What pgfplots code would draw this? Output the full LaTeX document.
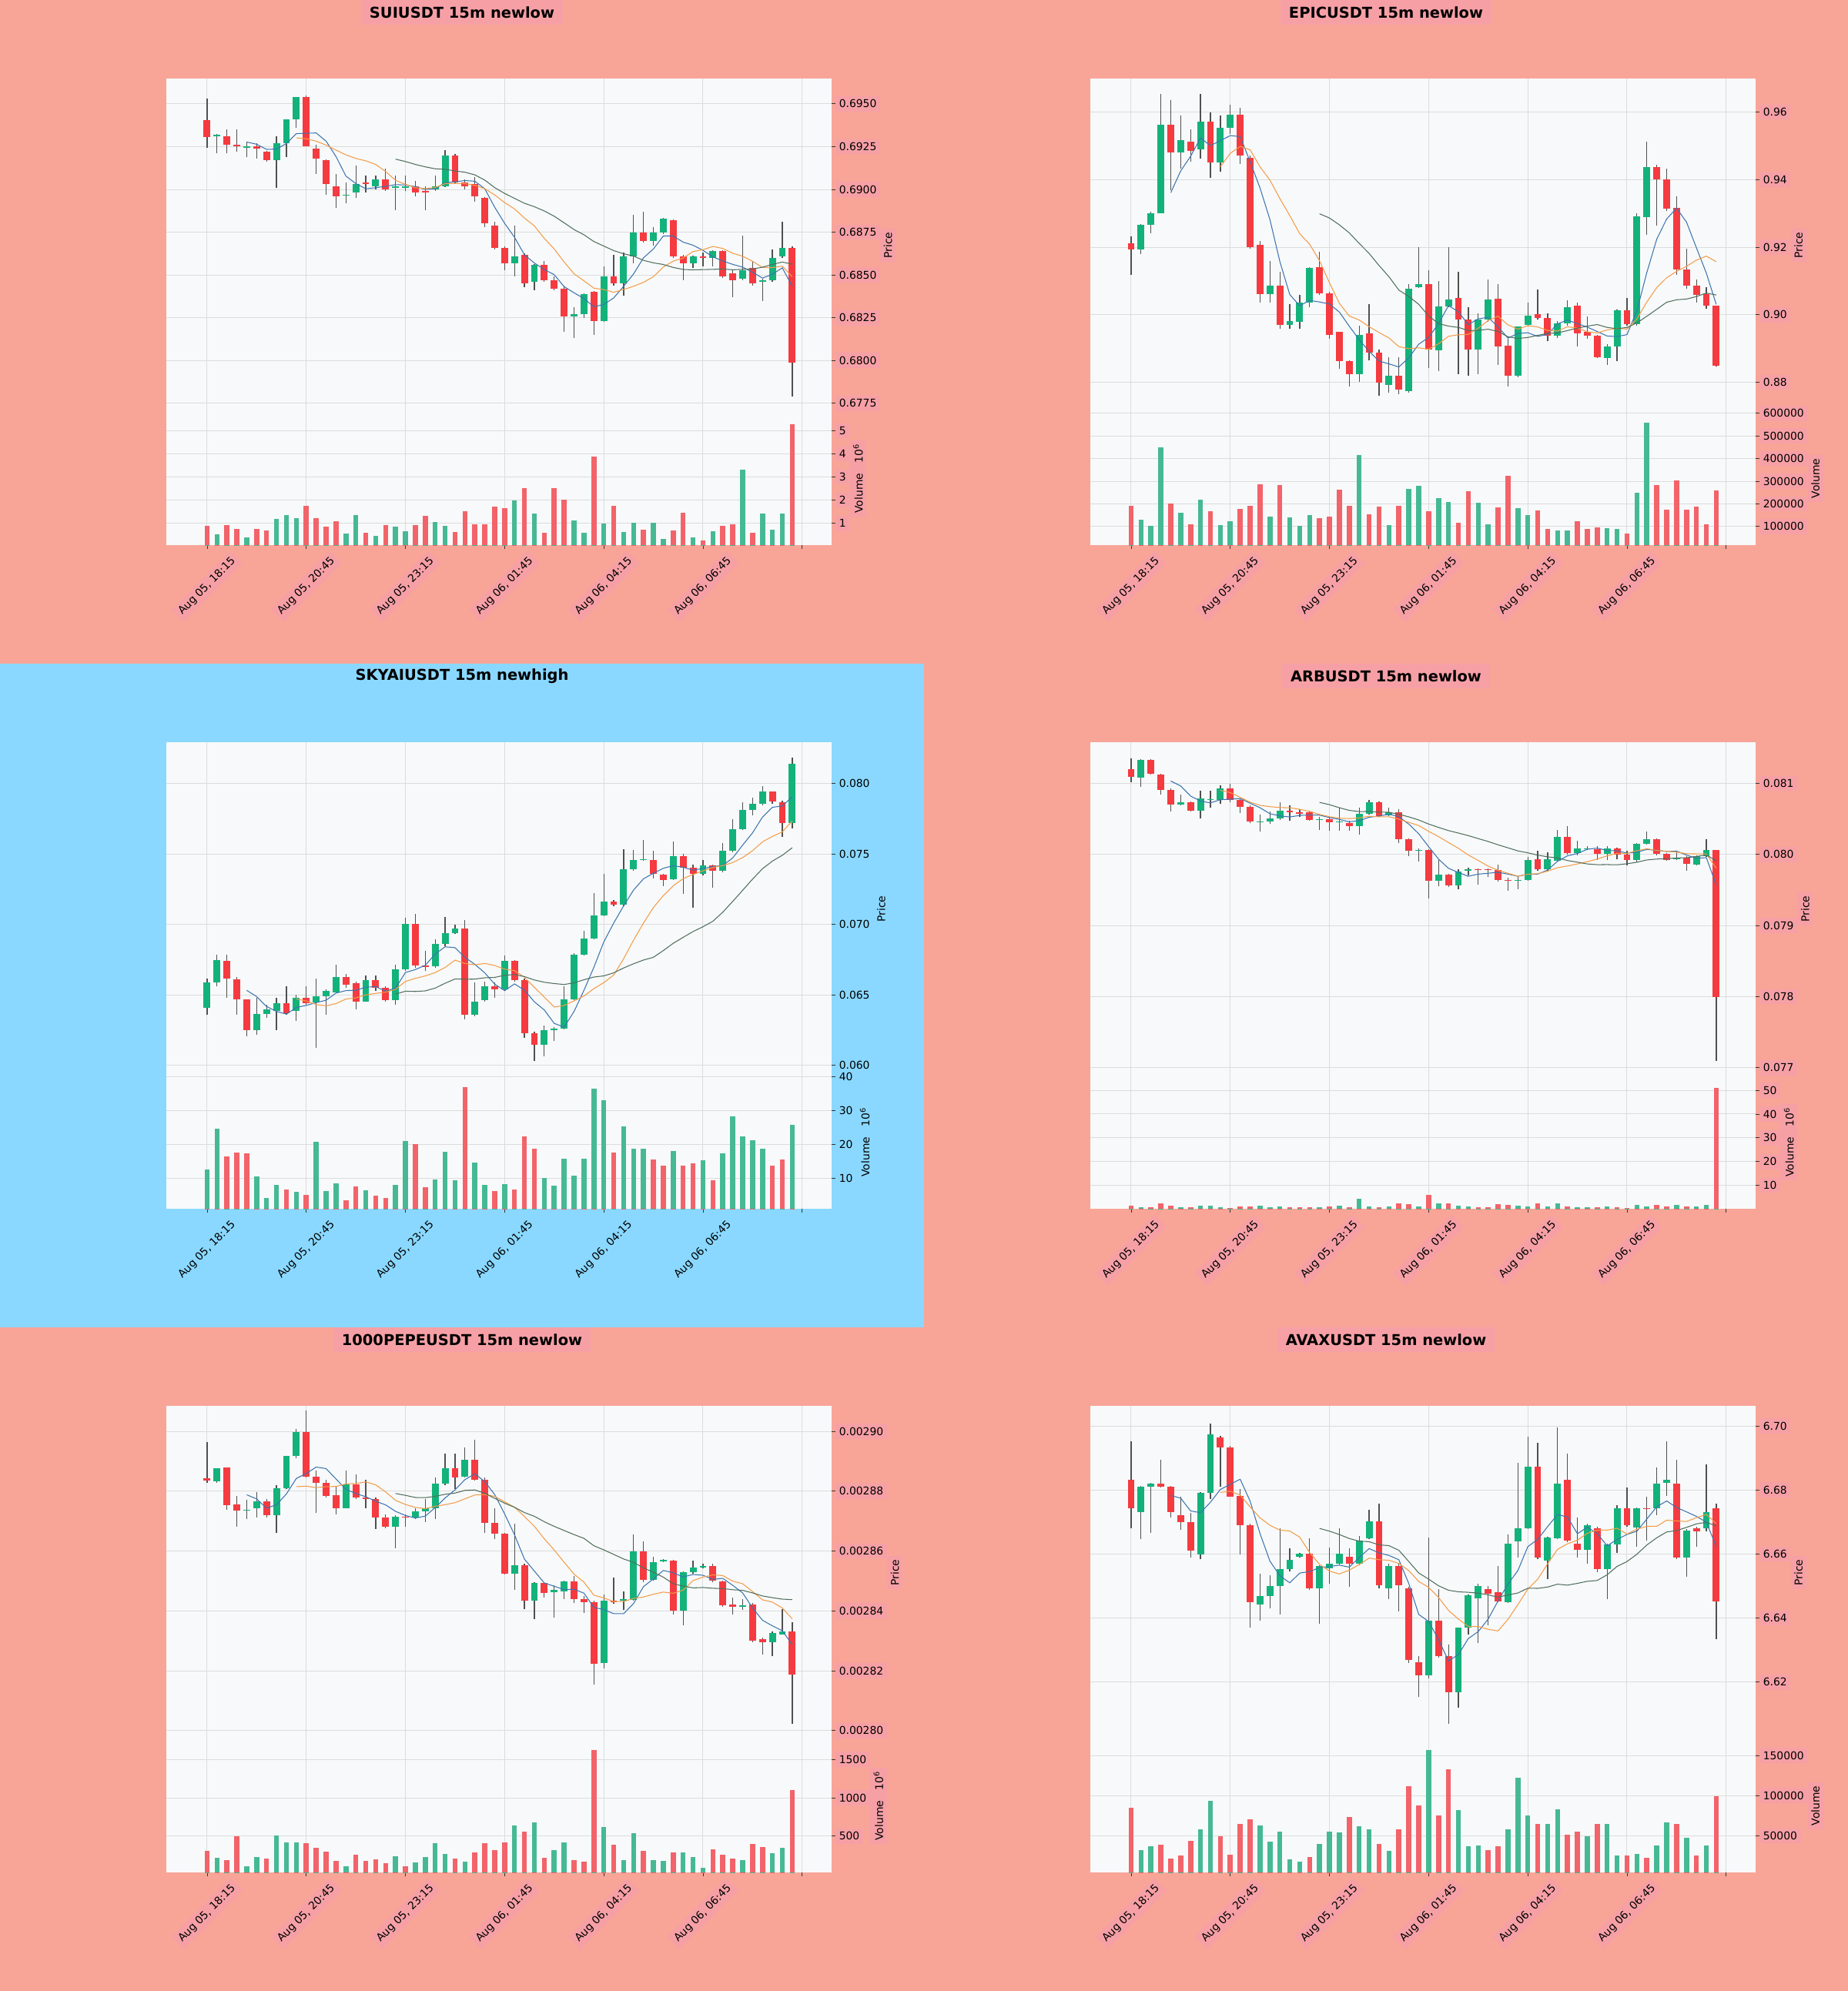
\documentclass[border=0pt]{standalone}
\usepackage{fontspec}
\setmainfont{DejaVu Sans}
\usepackage{pgfplots}
\usepackage{pgfplotstable}
\pgfplotsset{compat=1.18}
\definecolor{bgs}{HTML}{F8A598}
\definecolor{bgb}{HTML}{8AD8FF}
\definecolor{lblbg}{HTML}{F6A0A6}
\definecolor{facec}{HTML}{F8F9FA}
\definecolor{gridc}{HTML}{DCDCDC}
\definecolor{upc}{HTML}{13B27B}
\definecolor{dnc}{HTML}{F53A40}
\definecolor{upv}{HTML}{46B994}
\definecolor{dnv}{HTML}{F2636A}
\definecolor{wickc}{HTML}{505050}
\definecolor{ma5c}{HTML}{3A74B0}
\definecolor{ma10c}{HTML}{F39C45}
\definecolor{ma20c}{HTML}{4E6E5C}
\tikzset{lblfill/.style={fill=lblbg}}
\pgfplotsset{
 panelbase/.style={
  scale only axis, width=622.08pt, xmin=-4.11, xmax=62.97,
  axis background/.style={fill=facec},
  axis line style={draw=none},
  xmajorgrids, ymajorgrids,
  major grid style={draw=gridc, line width=0.7pt},
  scaled y ticks=false, scaled x ticks=false,
  ytick pos=right, yticklabel pos=right,
  tick align=outside, major tick length=3.5pt,
  ytick style={draw=black!80, line width=0.6pt},
  ylabel near ticks,
  tick label style={font=\fontsize{10}{12}\selectfont, lblfill},
  ylabel style={font=\fontsize{10}{12}\selectfont, lblfill},
  unbounded coords=jump, clip=true,
 },
 pricepanel/.style={panelbase, height=311.76pt, xtick={0,10,20,30,40,50,60}, xtick style={draw=none}, xticklabels={}, xticklabel style={fill=none}, ylabel={Price}},
 volpanel/.style={panelbase, height=124.56pt, xtick={0,10,20,30,40,50}, xtick pos=bottom, xtick style={draw=black!80, line width=0.6pt},
  xticklabels={{Aug 05, 18:15},{Aug 05, 20:45},{Aug 05, 23:15},{Aug 06, 01:45},{Aug 06, 04:15},{Aug 06, 06:45}},
  xticklabel style={yshift=-35pt, rotate=45, anchor=center},
  extra x ticks={60}, extra x tick labels={},
  extra x tick style={grid=major, xticklabel style={fill=none}}},
 candlebars/.style={draw=none, no markers, error bars/.cd, y dir=plus, y explicit, error mark=none},
}
\newcommand{\candlepanel}[6]{%
 \begin{axis}[pricepanel, at={(#1,#2)}, anchor=north west, #5]
  \addplot[candlebars, error bar style={draw=wickc, line width=0.9pt}] table[x=x, y=l, y error plus expr={\thisrow{h}-\thisrow{l}}] {#4};
  \addplot[candlebars, error bar style={draw=upc, line width=6.4pt}] table[x=x, y=o, y error plus expr={max(\thisrow{c}-\thisrow{o},0)}] {#4};
  \addplot[candlebars, error bar style={draw=dnc, line width=6.4pt}] table[x=x, y=c, y error plus expr={max(\thisrow{o}-\thisrow{c},0)}] {#4};
  \addplot[draw=ma5c, line width=0.75pt, mark=none] table[x=x, y=m5] {#4};
  \addplot[draw=ma10c, line width=0.75pt, mark=none] table[x=x, y=m10] {#4};
  \addplot[draw=ma20c, line width=0.75pt, mark=none] table[x=x, y=m20] {#4};
 \end{axis}
 \begin{axis}[volpanel, at={(#1,#3)}, anchor=north west, #6]
  \addplot[ycomb, draw=upv, line width=4.7pt, mark=none] table[x=x, y expr={(\thisrow{c}>\thisrow{o})*\thisrow{v}}] {#4};
  \addplot[ycomb, draw=dnv, line width=4.7pt, mark=none] table[x=x, y expr={(1-(\thisrow{c}>\thisrow{o}))*\thisrow{v}}] {#4};
 \end{axis}
}
% SUIUSDT: prices in 1e-4, volume in 1e6
\pgfplotstableread{
x o h l c v m5 m10 m20
0 6940.4 6953.1 6924.1 6930.5 0.88 nan nan nan
1 6931 6932.5 6921 6932 0.53 nan nan nan
2 6931 6935 6921 6926 0.93 nan nan nan
3 6926 6935 6922 6925 0.75 nan nan nan
4 6924.5 6928 6919 6925 0.40 6927.7 nan nan
5 6925 6927 6918 6924 0.75 6926.4 nan nan
6 6922 6922.5 6916 6917 0.68 6923.4 nan nan
7 6917 6931 6901 6927 1.20 6923.6 nan nan
8 6927 6941 6919 6941 1.35 6926.8 nan nan
9 6941 6954 6936 6954 1.21 6932.6 6930.15 nan
10 6954 6955 6925 6925 1.77 6932.8 6929.6 nan
11 6924 6926 6909 6918 1.21 6933.0 6928.2 nan
12 6917 6917.5 6897 6903 0.85 6928.2 6925.9 nan
13 6902 6909 6889 6896 1.08 6919.2 6923.0 nan
14 6896.5 6904 6892 6897 0.55 6907.8 6920.2 nan
15 6898 6914 6895 6903 1.35 6903.4 6918.1 nan
16 6904 6908 6898 6903 0.60 6900.4 6916.7 nan
17 6902 6908 6900 6906 0.47 6901.0 6914.6 nan
18 6906 6912 6899 6900 0.93 6901.8 6910.5 nan
19 6901 6908 6888 6902 0.87 6902.8 6905.3 6917.7
20 6901 6908 6899 6902 0.67 6902.6 6903.0 6916.3
21 6902 6905 6896 6898 0.93 6901.6 6901.0 6914.6
22 6899 6902 6888 6898 1.33 6900.0 6900.5 6913.2
23 6900 6908 6899 6902 1.07 6900.4 6901.1 6912.05
24 6902 6923 6901.5 6920 0.89 6904.0 6903.4 6911.8
25 6920 6920.5 6903 6904 0.63 6904.4 6903.5 6910.8
26 6904 6906 6900 6902 1.51 6905.2 6903.4 6910.05
27 6903 6907 6893 6896 0.95 6904.8 6902.4 6908.5
28 6895 6895.5 6878 6880 0.97 6900.4 6900.4 6905.45
29 6879 6881 6865 6866 1.73 6889.6 6896.8 6901.05
30 6866 6866.5 6853 6857 1.67 6880.2 6892.3 6897.65
31 6857 6879 6849 6861 2.00 6872.0 6888.6 6894.8
32 6862 6862.5 6843 6845 2.53 6861.8 6883.3 6891.9
33 6846 6856.5 6841 6856 1.44 6857.0 6878.7 6889.9
34 6856 6858 6846 6847 0.60 6853.2 6871.4 6887.4
35 6847 6849 6841 6842 2.53 6850.2 6865.2 6884.35
36 6842 6844 6817 6826 2.01 6843.2 6857.6 6880.5
37 6826 6831 6813 6827 1.11 6839.6 6850.7 6876.55
38 6827 6839.5 6825 6839 0.61 6836.2 6846.6 6873.5
39 6840 6840.5 6815 6823 3.87 6831.4 6842.3 6869.55
40 6823 6855 6822.5 6849 1.00 6832.8 6841.5 6866.9
41 6849 6862 6844 6845 1.75 6836.6 6839.9 6864.25
42 6845 6863 6838 6861 0.64 6843.4 6841.5 6862.4
43 6861 6885 6857 6875 1.04 6850.6 6843.4 6861.05
44 6875 6887 6869 6870 0.73 6860.0 6845.7 6858.55
45 6870 6878 6867 6875 1.03 6865.2 6849.0 6857.1
46 6875 6883.5 6874 6883 0.33 6872.8 6854.7 6856.15
47 6882 6882.5 6860 6861 0.71 6872.8 6858.1 6854.4
48 6861 6862 6847 6857 1.47 6869.2 6859.9 6853.25
49 6857 6861.5 6854 6861 0.39 6867.4 6863.7 6853.0
50 6861 6863 6855 6860 0.27 6864.4 6864.8 6853.15
51 6860 6864.5 6855 6864 0.67 6860.6 6866.7 6853.3
52 6864 6864.5 6848.5 6849 0.91 6858.2 6865.5 6853.5
53 6851 6853 6837 6847 0.95 6856.2 6862.7 6853.05
54 6848 6873 6847 6853 3.31 6854.6 6861.0 6853.35
55 6854 6858 6844 6845 0.60 6851.6 6858.0 6853.5
56 6846 6848 6835 6847 1.44 6848.2 6854.4 6854.55
57 6847 6865 6846 6860 0.73 6850.4 6854.3 6856.2
58 6861 6881 6860 6866 1.43 6854.2 6855.2 6857.55
59 6866 6866.5 6779 6799 5.28 6843.4 6849.0 6856.35
}\tSUI
% EPICUSDT: prices in 1e-4, volume in 1e3
\pgfplotstableread{
x o h l c v m5 m10 m20
0 9212 9232 9118 9194 190 nan nan nan
1 9194 9269 9179 9266 131 nan nan nan
2 9266 9304 9241 9301 104 nan nan nan
3 9301 9653 9300 9563 450 nan nan nan
4 9562 9635 9369 9481 200 9361 nan nan
5 9481 9589 9433 9516 161 9425.4 nan nan
6 9511 9548 9452 9484 111 9469 nan nan
7 9490 9653 9461 9571 220 9523 nan nan
8 9571 9598 9404 9450 166 9500.4 nan nan
9 9450 9589 9424 9554 107 9515 9438 nan
10 9554 9621 9534 9591 122 9530 9477.7 nan
11 9591 9612 9447 9470 179 9527.2 9498.1 nan
12 9465 9470 9196 9200 193 9453 9488 nan
13 9207 9218 9035 9060 286 9375 9437.7 nan
14 9060 9159 9035 9086 145 9281.4 9398.2 nan
15 9086 9127 8958 8971 284 9157.4 9343.7 nan
16 8971 9031 8958 8981 141 9059.6 9293.4 nan
17 8978 9058 8958 9035 103 9026.6 9239.8 nan
18 9035 9141 9022 9139 149 9042.4 9208.7 nan
19 9141 9186 9058 9063 138 9037.8 9159.6 9298.8
20 9063 9067 8930 8941 145 9031.8 9094.6 9286.2
21 8949 8950 8839 8862 264 9008 9033.8 9266
22 8862 8866 8788 8825 193 8966 8996.3 9242.2
23 8825 8967 8802 8941 416 8926.4 8984.4 9211
24 8944 9031 8866 8889 155 8891.6 8964.7 9181.5
25 8889 8898 8761 8798 189 8863 8947.4 9145.6
26 8793 8875 8770 8820 108 8854.6 8931.3 9112.4
27 8820 8875 8766 8779 193 8845.4 8905.7 9072.8
28 8773 9090 8770 9077 265 8872.6 8899.5 9054.1
29 9081 9200 9080 9090 279 8912.8 8902.2 9030.9
30 9090 9131 8843 8898 166 8932.8 8897.9 8996.25
31 8895 9100 8834 9024 227 8973.6 8914.1 8974
32 9024 9200 9022 9046 209 9027 8936.2 8966.25
33 9049 9127 8825 8987 118 9009 8940.8 8962.6
34 8985 9022 8820 8898 257 8970.6 8941.7 8953.2
35 8898 9003 8825 8985 204 8988 8960.4 8953.9
36 8985 9104 8980 9045 110 8992.2 8982.9 8957.1
37 9047 9090 8852 8907 186 8964.4 8995.7 8950.7
38 8909 8930 8788 8820 323 8931 8970 8934.75
39 8820 8966 8816 8965 182 8944.4 8957.5 8929.85
40 8971 9035 8967 8997 152 8946.8 8967.4 8932.65
41 9001 9074 8985 8990 172 8935.8 8964 8939.05
42 8990 9003 8921 8939 88 8942.2 8953.3 8944.75
43 8938 8981 8932 8974 84 8973 8952 8946.4
44 8974 9042 8967 9022 84 8984.4 8964.4 8953.05
45 9026 9035 8907 8944 122 8973.8 8960.3 8960.35
46 8949 8994 8930 8938 88 8963.4 8949.6 8966.25
47 8938 8941 8871 8874 95 8950.4 8946.3 8971
48 8871 8912 8852 8907 93 8937 8955 8962.5
49 8905 9015 8862 9014 88 8935.4 8959.9 8958.7
50 9014 9049 8967 8973 70 8941.2 8957.5 8962.45
51 8973 9301 8967 9292 248 9012 8987.7 8975.85
52 9289 9511 9237 9438 558 9124.8 9037.6 8995.45
53 9438 9443 9264 9401 284 9223.6 9080.3 9016.15
54 9401 9433 9306 9313 175 9283.4 9109.4 9036.9
55 9317 9351 9118 9133 302 9315.4 9128.3 9044.3
56 9133 9196 9078 9086 175 9274.2 9143.1 9046.35
57 9086 9104 9035 9058 189 9198.2 9161.5 9053.9
58 9060 9081 9017 9026 111 9123.2 9173.4 9064.2
59 9026 9027 8846 8850 261 9030.6 9157 9058.45
}\tEPIC
% SKYAIUSDT: prices in 1e-5, volume in 1e6
\pgfplotstableread{
x o h l c v m5 m10 m20
0 6410 6614 6357 6586 12.7 nan nan nan
1 6586 6783 6559 6746 24.6 nan nan nan
2 6739 6783 6482 6614 16.6 nan nan nan
3 6610 6625 6362 6467 17.6 nan nan nan
4 6467 6471 6208 6248 17.5 6532.2 nan nan
5 6248 6482 6219 6366 10.7 6488.2 nan nan
6 6366 6428 6340 6395 4.3 6418 nan nan
7 6388 6482 6252 6439 8.2 6383 nan nan
8 6439 6559 6362 6373 6.8 6364.2 nan nan
9 6388 6504 6314 6482 6.1 6411 6471.6 nan
10 6482 6559 6428 6439 5.2 6425.6 6456.9 nan
11 6445 6614 6125 6493 20.8 6445.2 6431.6 nan
12 6489 6542 6362 6526 6.3 6462.6 6422.8 nan
13 6520 6713 6515 6625 8.6 6513 6438.6 nan
14 6625 6647 6548 6570 3.6 6530.6 6470.8 nan
15 6581 6592 6395 6450 7.7 6532.8 6479.2 nan
16 6454 6636 6450 6603 6.6 6554.8 6500 nan
17 6603 6636 6526 6548 4.9 6559.2 6510.9 nan
18 6548 6559 6450 6461 4.3 6526.4 6519.7 nan
19 6461 6713 6428 6680 8.0 6548.4 6539.5 6505.55
20 6680 7046 6669 7002 21.0 6658.8 6595.8 6526.35
21 7002 7075 6691 6708 20.1 6679.8 6617.3 6524.45
22 6708 6811 6669 6700 7.5 6710.2 6634.7 6528.75
23 6702 6893 6691 6860 9.7 6790 6658.2 6548.4
24 6860 7053 6845 6936 17.8 6841.2 6694.8 6582.8
25 6936 6998 6932 6971 9.5 6835 6746.9 6613
26 6971 7031 6329 6362 36.9 6765.8 6722.8 6611.4
27 6362 6586 6351 6454 14.8 6716.6 6713.4 6612.15
28 6461 6592 6454 6559 8.2 6656.4 6723.2 6621.45
29 6563 6586 6482 6537 6.3 6576.6 6708.9 6624.2
30 6537 6778 6526 6739 8.4 6530.2 6682.6 6639.2
31 6739 6746 6592 6603 6.7 6578.4 6672.1 6644.7
32 6603 6614 6197 6230 22.4 6533.6 6625.1 6629.9
33 6226 6241 6033 6147 18.7 6451.2 6553.8 6606
34 6147 6285 6066 6248 10.2 6393.4 6485 6589.9
35 6252 6274 6175 6263 7.8 6298.2 6414.2 6580.55
36 6263 6559 6257 6471 15.9 6271.8 6425.1 6573.95
37 6471 6796 6461 6783 10.9 6382.4 6458 6585.7
38 6783 6954 6778 6899 15.9 6532.8 6492 6607.6
39 6899 7222 6893 7064 36.5 6696 6544.7 6626.8
40 7064 7360 7059 7162 33.1 6875.8 6587 6634.8
41 7162 7173 7129 7140 17.6 7009.6 6640.7 6656.4
42 7140 7535 7129 7393 25.4 7131.6 6757 6691.05
43 7393 7528 7382 7458 18.7 7243.4 6888.1 6720.95
44 7458 7601 7454 7463 18.9 7323.2 7009.6 6747.3
45 7458 7524 7327 7360 15.7 7362.8 7119.3 6766.75
46 7353 7360 7272 7316 13.7 7398 7203.8 6814.45
47 7322 7590 7316 7485 18.1 7416.4 7274 6866
48 7485 7502 7217 7403 13.7 7405.4 7324.4 6908.2
49 7403 7425 7118 7360 14.4 7384.8 7354 6949.35
50 7360 7458 7349 7419 15.3 7396.6 7379.7 6983.35
51 7419 7425 7261 7382 9.5 7409.8 7403.9 7022.3
52 7382 7579 7371 7524 17.5 7417.6 7417 7087
53 7520 7748 7513 7673 28.3 7471.6 7438.5 7163.3
54 7673 7864 7667 7814 22.5 7562.4 7473.6 7241.6
55 7814 7897 7776 7853 21.2 7649.2 7522.9 7321.1
56 7853 7980 7842 7941 18.9 7761 7585.4 7394.6
57 7941 7945 7853 7871 13.8 7830.4 7624 7449
58 7864 7875 7623 7721 15.5 7840 7655.8 7490.1
59 7721 8182 7678 8138 25.8 7904.8 7733.6 7543.8
}\tSKY
% ARBUSDT: prices in 1e-5, volume in 1e6
\pgfplotstableread{
x o h l c v m5 m10 m20
0 8120 8135 8102 8109 1.5 nan nan nan
1 8108 8134 8095 8133 0.8 nan nan nan
2 8133 8134.5 8112 8114 0.8 nan nan nan
3 8113 8114 8084 8091 2.4 nan nan nan
4 8091 8093 8060 8070 1.5 8103.4 nan nan
5 8070 8084 8069 8074 0.6 8096.4 nan nan
6 8074 8075 8060 8062 0.6 8082.2 nan nan
7 8062 8090 8051 8079 1.5 8075.2 nan nan
8 8077 8090 8066 8078 1.5 8072.6 nan nan
9 8077 8097 8071 8093 0.8 8077.2 8090.3 nan
10 8093 8099 8073 8077 0.4 8077.8 8087.1 nan
11 8077 8079 8058 8067 1.1 8078.8 8080.5 nan
12 8067 8069 8044 8046 1.1 8072.2 8073.7 nan
13 8045.5 8056 8032 8046 1.3 8065.8 8069.2 nan
14 8046 8060 8043 8051 0.6 8057.4 8067.3 nan
15 8051 8074 8049 8062 1.1 8054.4 8066.1 nan
16 8062 8069 8048 8059 0.8 8052.8 8065.8 nan
17 8059 8064 8053 8057 0.8 8055 8063.6 nan
18 8059 8062 8048 8049 0.6 8055.6 8060.7 nan
19 8049 8053 8034 8050 0.8 8055.4 8056.4 8073.35
20 8050 8053 8033 8045 1.1 8052 8053.2 8070.15
21 8045 8066 8033 8046 1.5 8049.4 8051.1 8065.8
22 8044 8047 8033 8040 0.8 8046 8050.5 8062.1
23 8040 8066 8028 8057 4.4 8047.6 8051.6 8060.4
24 8057 8077 8056 8074 1.1 8052.4 8053.9 8060.6
25 8074 8075 8053 8054 0.8 8054.2 8053.1 8059.6
26 8055 8066 8054 8059 1.1 8056.8 8053.1 8059.45
27 8059 8064 8016 8022 2.4 8053.2 8049.6 8056.6
28 8022 8023 7998 8005 1.9 8042.8 8045.2 8052.95
29 8005 8008 7990 8006 1.1 8029.2 8040.8 8048.6
30 8006 8007 7938 7963 6.1 8011 8032.6 8042.9
31 7963 7992 7955 7972 2.5 7993.6 8025.2 8038.15
32 7972 7973 7954 7957 2.4 7980.6 8016.9 8033.7
33 7957 7979 7951 7976 1.5 7974.8 8008.8 8030.2
34 7977 7982 7971 7979 1.1 7969.4 7999.3 8026.6
35 7979 7980 7958 7978 0.8 7972.4 7991.7 8022.4
36 7979 7980 7968 7978 0.8 7973.6 7983.6 8018.35
37 7978 7986 7962 7964 2.1 7975 7977.8 8013.7
38 7964 7967 7949 7963 1.7 7972.4 7973.6 8009.4
39 7963 7969 7951 7964 1.5 7969.4 7969.4 8005.1
40 7964 7997 7963 7992 1.2 7972.2 7972.3 8002.45
41 7993 8005 7977 7979 2.5 7972.4 7973 7999.1
42 7979 8003 7977 7993 1.2 7978.2 7976.6 7996.75
43 7991 8035 7990 8025 2.5 7990.6 7981.5 7995.15
44 8025 8040 8000 8002 1.1 7998.2 7983.8 7991.55
45 8002 8019 7999 8008 0.8 8001.4 7986.8 7989.25
46 8007 8012 8006 8009 0.8 8007.4 7989.9 7986.75
47 8007 8012 7992 8001 0.8 8009 7993.6 7985.7
48 8001 8012 7992 8008 1.1 8005.6 7998.1 7985.85
49 8008 8010 7993 8000 0.8 8005.2 8001.7 7985.55
50 8000 8005 7985 7992 0.4 8002 8001.7 7987
51 7992 8016 7989 8015 1.7 8003.2 8005.3 7989.15
52 8015 8032 8014 8021 1.1 8007.2 8008.1 7992.35
53 8022 8023 7999 8001 1.7 8005.8 8005.7 7993.6
54 8001 8002 7991.5 7992 1.1 8004.2 8004.7 7994.25
55 7993 8004 7992 7995 1.6 8004.8 8003.4 7995.1
56 7996 7998 7977 7987 1.2 7999.2 8001.2 7995.55
57 7986 7999 7985 7998 1.2 7994.6 8000.9 7997.25
58 7998 8021 7997 8006 1.6 7995.6 8000.7 7999.4
59 8006 8006.5 7710 7800 51.0 7957.2 7980.7 7991.2
}\tARB
% 1000PEPEUSDT: prices in 1e-7, volume in 1e6
\pgfplotstableread{
x o h l c v m5 m10 m20
0 28842 28963 28829 28835 306 nan nan nan
1 28832 28876 28829 28876 217 nan nan nan
2 28878 28880 28739 28754 188 nan nan nan
3 28756 28785 28682 28736 492 nan nan nan
4 28734 28770 28708 28738 107 28787.8 nan nan
5 28742 28798 28713 28767 225 28774.2 nan nan
6 28767 28775 28713 28721 204 28743.2 nan nan
7 28721 28821 28661 28811 508 28754.6 nan nan
8 28811 28919 28806 28917 411 28790.8 nan nan
9 28917 29007 28909 28997 411 28842.6 28815.2 nan
10 28997 29069 28845 28849 407 28859 28816.6 nan
11 28849 28868 28728 28829 350 28880.6 28811.9 nan
12 28829 28839 28780 28785 298 28875.4 28815 nan
13 28787 28816 28723 28744 176 28840.8 28815.8 nan
14 28744 28870 28742 28823 103 28806 28824.3 nan
15 28823 28857 28775 28780 257 28792.2 28825.6 nan
16 28780 28837 28744 28775 176 28781.4 28831 nan
17 28775 28780 28674 28711 196 28766.6 28821 nan
18 28711 28723 28677 28682 148 28754.2 28797.5 nan
19 28682 28720 28610 28715 237 28732.6 28769.3 28792.25
20 28715 28723 28682 28711 103 28718.8 28755.5 28786.05
21 28711 28744 28708 28733 156 28710.4 28745.9 28778.9
22 28733 28775 28697 28742 225 28716.6 28741.6 28778.3
23 28744 28845 28708 28824 407 28745 28749.6 28782.7
24 28824 28925 28821 28876 265 28777.2 28754.9 28789.6
25 28876 28925 28806 28847 208 28804.4 28761.6 28793.6
26 28849 28945 28847 28904 168 28838.6 28774.5 28802.75
27 28904 28973 28835 28839 289 28858 28787.3 28804.15
28 28839 28845 28661 28694 407 28832 28788.5 28793
29 28694 28744 28640 28659 318 28788.6 28782.9 28776.1
30 28659 28661 28522 28525 419 28724.2 28764.3 28759.9
31 28525 28692 28470 28553 634 28654 28746.3 28746.1
32 28553 28558 28405 28434 561 28573 28715.5 28728.55
33 28434 28496 28372 28494 674 28533 28682.5 28716.05
34 28494 28496 28444 28460 217 28493.2 28640.9 28697.9
35 28463 28486 28377 28470 318 28482.2 28603.2 28682.4
36 28465 28501 28439 28498 411 28471.2 28562.6 28668.55
37 28498 28517 28426 28439 188 28472.2 28522.6 28654.95
38 28439 28449 28393 28429 168 28459.2 28496.1 28642.3
39 28429 28434 28155 28222 1622 28411.6 28452.4 28617.65
40 28225 28455 28207 28434 622 28404.4 28443.3 28603.8
41 28434 28511 28424 28429 387 28390.6 28430.9 28588.6
42 28434 28465 28403 28439 188 28390.6 28431.4 28573.45
43 28436 28656 28434 28599 541 28424.6 28441.9 28562.2
44 28599 28632 28496 28504 306 28481 28446.3 28543.6
45 28504 28581 28501 28563 188 28506.8 28455.6 28529.4
46 28565 28573 28563 28570 176 28535 28462.8 28512.7
47 28568 28570 28387 28401 289 28527.4 28459 28490.8
48 28401 28532 28353 28529 289 28513.4 28469 28482.55
49 28529 28568 28525 28545 225 28521.6 28501.3 28476.85
50 28545 28558 28542 28550 87 28519 28512.9 28478.1
51 28550 28558 28496 28501 330 28505.2 28520.1 28475.5
52 28498 28501 28413 28418 257 28508.6 28518 28474.7
53 28421 28444 28387 28413 204 28485.4 28499.4 28470.65
54 28413 28439 28403 28418 188 28460 28490.8 28468.55
55 28421 28426 28294 28300 399 28410 28464.5 28460.05
56 28305 28310 28253 28294 358 28368.6 28436.9 28449.85
57 28294 28331 28250 28325 277 28350 28429.3 28444.15
58 28322 28405 28320 28331 346 28333.6 28409.5 28439.25
59 28331 28362 28023 28186 1099 28287.2 28373.6 28437.45
}\tPEPE
% AVAXUSDT: prices in 1e-4, volume in 1e3
\pgfplotstableread{
x o h l c v m5 m10 m20
0 66831 66952 66681 66742 85 nan nan nan
1 66732 66813 66647 66811 32 nan nan nan
2 66811 66823 66666 66819 37 nan nan nan
3 66821 66894 66808 66811 39 nan nan nan
4 66811 66813 66715 66732 22 66783 nan nan
5 66721 66778 66676 66700 26 66774.6 nan nan
6 66700 66729 66589 66611 44 66734.6 nan nan
7 66599 66794 66584 66792 58 66729.2 nan nan
8 66792 67007 66773 66974 94 66761.8 nan nan
9 66964 66968 66811 66932 50 66801.8 66792.4 nan
10 66932 66937 66778 66780 27 66817.8 66796.2 nan
11 66782 66802 66599 66691 65 66833.8 66784.2 nan
12 66691 66695 66371 66449 71 66765.2 66747.2 nan
13 66442 66539 66391 66468 63 66664 66712.9 nan
14 66468 66533 66429 66500 43 66577.6 66689.7 nan
15 66500 66681 66410 66552 55 66532 66674.9 nan
16 66552 66618 66545 66581 21 66510 66671.9 nan
17 66591 66604 66589 66601 18 66540.4 66652.8 nan
18 66601 66649 66487 66492 24 66545.2 66604.6 nan
19 66492 66565 66381 66562 40 66557.6 66567.6 66680
20 66555 66620 66507 66570 55 66561.2 66546.6 66671.4
21 66570 66681 66565 66601 54 66565.2 66537.6 66660.9
22 66591 66618 66497 66570 74 66559 66549.7 66648.45
23 66570 66657 66565 66642 62 66589 66567.1 66640
24 66649 66739 66647 66702 58 66617 66587.3 66638.5
25 66702 66758 66492 66502 40 66603.4 66582.3 66628.6
26 66492 66570 66458 66562 31 66595.6 66580.4 66626.15
27 66562 66570 66420 66502 58 66582 66570.5 66611.65
28 66492 66497 66260 66270 112 66507.6 66548.3 66576.45
29 66262 66280 66154 66220 88 66411.2 66514.1 66540.85
30 66220 66652 66212 66391 157 66389 66496.2 66521.4
31 66391 66490 66275 66280 75 66332.6 66464.1 66500.85
32 66280 66318 66069 66168 133 66265.8 66423.9 66486.8
33 66168 66371 66120 66369 82 66285.6 66396.6 66481.85
34 66369 66473 66349 66471 37 66335.8 66373.5 66480.4
35 66461 66507 66323 66500 38 66357.6 66373.3 66477.8
36 66490 66500 66378 66475 32 66396.6 66364.6 66472.5
37 66481 66562 66449 66452 37 66453.4 66359.6 66465.05
38 66449 66662 66446 66633 58 66506.2 66395.9 66472.1
39 66639 66884 66589 66681 122 66548.2 66442 66478.05
40 66681 66966 66678 66874 75 66623 66490.3 66493.25
41 66874 66947 66584 66589 65 66645.8 66521.2 66492.65
42 66579 66655 66521 66652 65 66685.8 66569.6 66496.75
43 66649 66995 66647 66821 83 66723.4 66614.8 66505.7
44 66833 66913 66637 66642 52 66715.6 66631.9 66502.7
45 66633 66715 66589 66613 55 66663.4 66643.2 66508.25
46 66613 66695 66570 66691 50 66683.8 66664.8 66514.7
47 66681 66686 66543 66552 65 66663.8 66674.8 66517.2
48 66552 66633 66458 66630 65 66625.6 66674.5 66535.2
49 66630 66753 66604 66742 26 66645.6 66680.6 66561.3
50 66742 66807 66686 66691 26 66661.2 66662.3 66576.3
51 66684 66746 66623 66742 28 66671.4 66677.6 66599.4
52 66744 66778 66642 66742 23 66709.4 66686.6 66628.1
53 66742 66871 66722 66821 38 66747.6 66686.6 66650.7
54 66823 66952 66782 66833 67 66765.8 66705.7 66668.8
55 66821 66894 66584 66589 65 66745.4 66703.3 66673.25
56 66589 66678 66529 66674 48 66731.8 66701.6 66683.2
57 66681 66686 66623 66671 26 66717.6 66713.5 66694.15
58 66681 66881 66671 66732 38 66699.8 66723.7 66699.1
59 66742 66758 66333 66452 99 66623.6 66694.7 66687.65
}\tAVAX
\begin{document}
\begin{tikzpicture}
\useasboundingbox (0,0) rectangle (1728pt,-1861.92pt);
\fill[bgs] (0,0) rectangle (1728pt,-1861.92pt);
\fill[bgb] (0,-620.64pt) rectangle (864pt,-1241.28pt);
\tikzset{ttl/.style={font=\fontsize{14}{16.8}\selectfont\bfseries, inner xsep=8pt, inner ysep=6pt}}
% SUI
\candlepanel{155.52pt}{-73.44pt}{-385.2pt}{\tSUI}
 {ymin=6770, ymax=6964.8, ytick={6775,6800,6825,6850,6875,6900,6925,6950}, yticklabels={0.6775,0.6800,0.6825,0.6850,0.6875,0.6900,0.6925,0.6950}}
 {ymin=0.064, ymax=5.807, ytick={1,2,3,4,5}, yticklabels={1,2,3,4,5}, ylabel={Volume\hspace{1em}10\textsuperscript{6}}}
% EPIC
\candlepanel{1019.52pt}{-73.44pt}{-385.2pt}{\tEPIC}
 {ymin=8712.5, ymax=9698.9, ytick={8800,9000,9200,9400,9600}, yticklabels={0.88,0.90,0.92,0.94,0.96}}
 {ymin=18, ymax=606, ytick={100,200,300,400,500,600}, yticklabels={100000,200000,300000,400000,500000,600000}, ylabel={Volume}}
% SKYAI (blue panel)
\candlepanel{155.52pt}{-694.08pt}{-1005.84pt}{\tSKY}
 {/tikz/lblfill/.style={}, ymin=5928, ymax=8292, ytick={6000,6500,7000,7500,8000}, yticklabels={0.060,0.065,0.070,0.075,0.080}}
 {/tikz/lblfill/.style={}, ymin=1.03, ymax=40.41, ytick={10,20,30,40}, yticklabels={10,20,30,40}, ylabel={Volume\hspace{1em}10\textsuperscript{6}}}
% ARB
\candlepanel{1019.52pt}{-694.08pt}{-1005.84pt}{\tARB}
 {ymin=7689, ymax=8158, ytick={7700,7800,7900,8000,8100}, yticklabels={0.077,0.078,0.079,0.080,0.081}}
 {ymin=0.1, ymax=56.2, ytick={10,20,30,40,50}, yticklabels={10,20,30,40,50}, ylabel={Volume\hspace{1em}10\textsuperscript{6}}}
% PEPE
\candlepanel{155.52pt}{-1314.72pt}{-1626.48pt}{\tPEPE}
 {ymin=27971, ymax=29085, ytick={28000,28200,28400,28600,28800,29000}, yticklabels={0.00280,0.00282,0.00284,0.00286,0.00288,0.00290}}
 {ymin=23, ymax=1765, ytick={500,1000,1500}, yticklabels={500,1000,1500}, ylabel={Volume\hspace{1em}10\textsuperscript{6}}}
% AVAX
\candlepanel{1019.52pt}{-1314.72pt}{-1626.48pt}{\tAVAX}
 {ymin=66021, ymax=67063, ytick={66200,66400,66600,66800,67000}, yticklabels={6.62,6.64,6.66,6.68,6.70}}
 {ymin=4.6, ymax=170.2, ytick={50,100,150}, yticklabels={50000,100000,150000}, ylabel={Volume}}
% titles
\node[ttl, fill=lblbg] at (432pt,-11.52pt) {SUIUSDT 15m newlow};
\node[ttl, fill=lblbg] at (1296pt,-11.52pt) {EPICUSDT 15m newlow};
\node[ttl] at (432pt,-632.16pt) {SKYAIUSDT 15m newhigh};
\node[ttl, fill=lblbg] at (1296pt,-632.16pt) {ARBUSDT 15m newlow};
\node[ttl, fill=lblbg] at (432pt,-1252.8pt) {1000PEPEUSDT 15m newlow};
\node[ttl, fill=lblbg] at (1296pt,-1252.8pt) {AVAXUSDT 15m newlow};
\end{tikzpicture}
\end{document}
